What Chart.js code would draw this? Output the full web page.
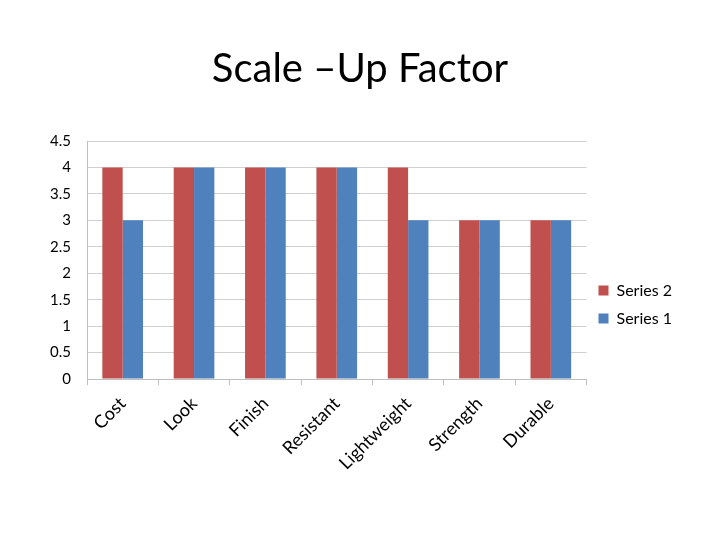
<!DOCTYPE html>
<html>
<head>
<meta charset="utf-8">
<script src="https://cdn.jsdelivr.net/npm/chart.js@4/dist/chart.umd.min.js"></script>
<style>
  html, body { margin: 0; padding: 0; background: #fff; }
  #wrap { width: 720px; height: 540px; }
</style>
</head>
<body>
<div id="wrap"><canvas id="myChart"></canvas></div>
<script>
// Datos del grafico
const categories = ["Cost", "Look", "Finish", "Resistant", "Lightweight", "Strength", "Durable"];
const series2 = [4, 4, 4, 4, 4, 3, 3];
const series1 = [3, 4, 4, 4, 3, 3, 3];
const yTicks = [0, 0.5, 1, 1.5, 2, 2.5, 3, 3.5, 4, 4.5];

const fontName = "Lato, 'Open Sans', sans-serif";

// Padding simetrico para que el titulo quede centrado
const sidePad = 38;

const myChart = new Chart("myChart", {
    type: "bar",
    data: {
        labels: categories,
        datasets: [
            { label: "Series 2", data: series2, backgroundColor: "#C0504D" },
            { label: "Series 1", data: series1, backgroundColor: "#4F81BD" }
        ]
    },
    options: {
        responsive: true,
        maintainAspectRatio: false,
        animation: false,
        layout: { padding: { top: 0, right: sidePad, bottom: 0, left: sidePad } },
        datasets: { bar: { categoryPercentage: 0.57, barPercentage: 1 } },
        plugins: {
            title: {
                display: true,
                text: "Scale \u2013Up Factor",
                color: "#000",
                font: { family: fontName, size: 40, weight: "normal" },
                padding: { top: 45, bottom: 48 }
            },
            legend: {
                position: "right",
                fullSize: false,
                title: { display: true, text: " ", padding: { top: 35, bottom: 36 }, font: { size: 15 } },
                labels: {
                    color: "#000",
                    boxWidth: 10,
                    boxHeight: 10,
                    padding: 12,
                    font: { family: fontName, size: 16 }
                }
            },
            tooltip: { enabled: false }
        },
        scales: {
            x: {
                afterFit: (scale) => { scale.height = 161; },
                grid: { drawOnChartArea: false, drawTicks: true, tickLength: 6, color: "#bfbfbf" },
                border: { color: "#bfbfbf" },
                ticks: {
                    color: "#000",
                    padding: 8,
                    maxRotation: 45,
                    minRotation: 45,
                    font: { family: fontName, size: 18 }
                }
            },
            y: {
                min: 0,
                max: 4.5,
                afterFit: (scale) => { scale.width = 87 - sidePad; },
                afterBuildTicks: (scale) => { scale.ticks = yTicks.map(v => ({ value: v })); },
                grid: { color: "#d0d0d0", drawTicks: false },
                border: { color: "#bfbfbf" },
                ticks: {
                    color: "#000",
                    padding: 16,
                    font: { family: fontName, size: 15 },
                    callback: (v) => String(v)
                }
            }
        }
    }
});
</script>
</body>
</html>
